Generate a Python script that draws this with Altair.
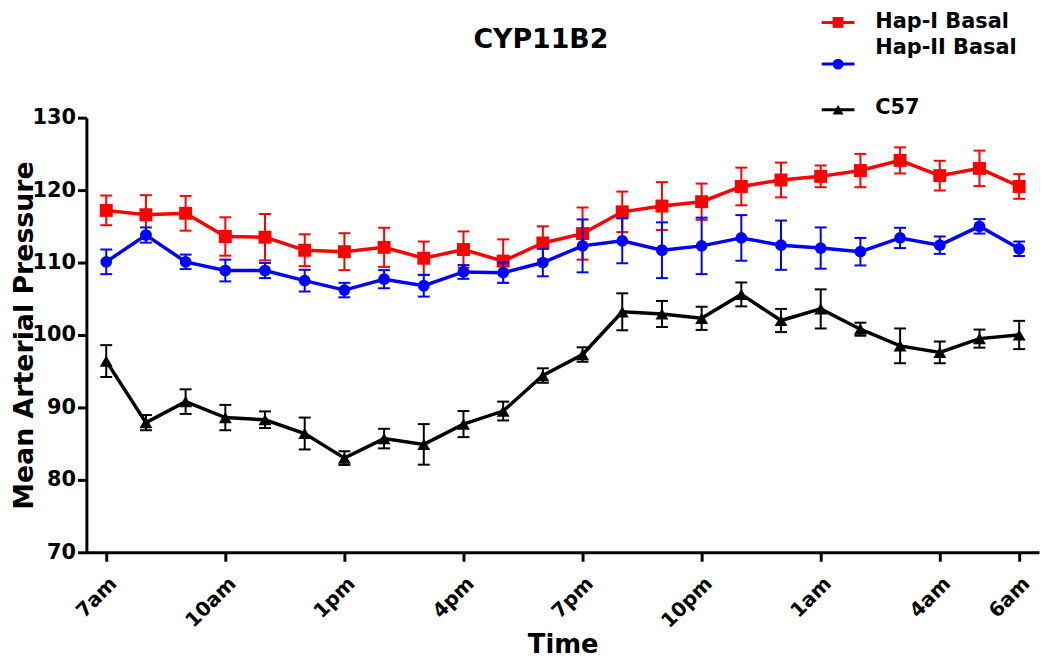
import altair as alt
import pandas as pd

chart_title = ["CYP11B2"]
times = ["7am", "8am", "9am", "10am", "11am", "12pm", "1pm", "2pm", "3pm", "4pm",
         "5pm", "6pm", "7pm", "8pm", "9pm", "10pm", "11pm", "12am", "1am", "2am",
         "3am", "4am", "5am", "6am"]
tick_labels = ["7am", "10am", "1pm", "4pm", "7pm", "10pm", "1am", "4am", "6am"]
y_ticks = [70, 80, 90, 100, 110, 120, 130]

series_names = ["Hap-I Basal", "Hap-II Basal", "C57"]
series_colors = ["#ff0000", "#0000ff", "#000000"]
series_shapes = ["square", "circle", "triangle-up"]
marker_sizes = [170, 140, 170]
legend_marker_sizes = [120, 120, 120]

hap1_mean = [117.2, 116.6, 116.8, 113.6, 113.5, 111.7, 111.5, 112.1, 110.6, 111.8,
             110.2, 112.7, 114.0, 117.0, 117.8, 118.4, 120.5, 121.4, 121.9, 122.7,
             124.1, 122.0, 123.0, 120.5]
hap1_err = [2.05, 2.7, 2.4, 2.65, 3.2, 2.2, 2.55, 2.7, 2.3, 2.5, 3.0, 2.3,
            3.6, 2.8, 3.3, 2.5, 2.6, 2.4, 1.5, 2.3, 1.8, 2.05, 2.45, 1.7]
hap2_mean = [110.1, 113.8, 110.1, 108.9, 108.9, 107.5, 106.2, 107.7, 106.8, 108.7,
             108.6, 110.0, 112.3, 113.0, 111.7, 112.3, 113.4, 112.4, 112.0, 111.5,
             113.4, 112.4, 115.0, 111.9]
hap2_err = [1.7, 1.05, 1.0, 1.5, 1.05, 1.5, 1.0, 1.25, 1.5, 0.95, 1.4, 1.9,
            3.65, 3.1, 3.85, 3.9, 3.15, 3.4, 2.85, 1.9, 1.4, 1.2, 1.0, 1.0]
c57_mean = [96.4, 87.9, 90.8, 88.6, 88.3, 86.4, 83.0, 85.7, 84.9, 87.7,
            89.5, 94.4, 97.3, 103.2, 102.9, 102.3, 105.6, 102.0, 103.6, 100.8,
            98.5, 97.6, 99.5, 100.0]
c57_err = [2.2, 1.05, 1.7, 1.75, 1.15, 2.2, 0.95, 1.35, 2.8, 1.8, 1.3, 1.0,
           1.0, 2.55, 1.8, 1.6, 1.65, 1.6, 2.7, 0.9, 2.4, 1.5, 1.25, 1.95]

rows = []
for name, means, errs in zip(series_names, [hap1_mean, hap2_mean, c57_mean],
                             [hap1_err, hap2_err, c57_err]):
    for t, m, e in zip(times, means, errs):
        rows.append({"series": name, "time": t, "mean": m,
                     "lo": round(m - e, 3), "hi": round(m + e, 3)})
df = pd.DataFrame(rows)

FONT = "DejaVu Sans"

x_axis = alt.Axis(values=tick_labels, title="Time", grid=False,
                  labelAngle=315, labelAlign="right", labelBaseline="top",
                  labelPadding=12, labelOverlap=False,
                  labelFont=FONT, labelFontSize=20, labelFontWeight="bold",
                  labelColor="black",
                  tickSize=9, tickWidth=3, tickColor="black",
                  domainWidth=3, domainColor="black",
                  titleFont=FONT, titleFontSize=26, titleFontWeight="bold",
                  titleColor="black", titleBaseline="alphabetic", titleY=101)
x_enc = alt.X("time:N", scale=alt.Scale(type="point", domain=times, padding=0.5),
              axis=x_axis)

y_axis = alt.Axis(values=y_ticks, title="Mean Arterial Pressure", grid=False,
                  labelFont=FONT, labelFontSize=21, labelFontWeight="bold",
                  labelColor="black", labelPadding=2,
                  tickSize=9, tickWidth=3, tickColor="black",
                  domainWidth=3, domainColor="black",
                  titleFont=FONT, titleFontSize=27, titleFontWeight="bold",
                  titleColor="black", titleBaseline="alphabetic", titleX=-54)
y_scale = alt.Scale(domain=[70, 130], nice=False, zero=False)

color_scale = alt.Scale(domain=series_names, range=series_colors)
color_enc = alt.Color("series:N", scale=color_scale, legend=None)

base = alt.Chart(df)
layers = []
for name, shape, size in zip(series_names, series_shapes, marker_sizes):
    b = base.transform_filter(alt.datum.series == name)
    rule = b.mark_rule(strokeWidth=2).encode(
        x=x_enc, y=alt.Y("lo:Q", scale=y_scale, axis=y_axis), y2="hi:Q",
        color=color_enc)
    cap_lo = b.mark_tick(size=12, thickness=2, opacity=1).encode(
        x=x_enc, y=alt.Y("lo:Q", scale=y_scale, axis=y_axis), color=color_enc)
    cap_hi = b.mark_tick(size=12, thickness=2, opacity=1).encode(
        x=x_enc, y=alt.Y("hi:Q", scale=y_scale, axis=y_axis), color=color_enc)
    line = b.mark_line(strokeWidth=3.5).encode(
        x=x_enc, y=alt.Y("mean:Q", scale=y_scale, axis=y_axis), color=color_enc)
    pts = b.mark_point(shape=shape, filled=True, size=size, opacity=1).encode(
        x=x_enc, y=alt.Y("mean:Q", scale=y_scale, axis=y_axis), color=color_enc)
    layers += [rule, cap_lo, cap_hi, line, pts]

# manual legend (pixel placement, relative to the plot's top-left corner)
legend_symbol_y = [-96, -54, -8]
legend_label_y = [-96, -70, -10]
for name, shape, lsize, sy, ty in zip(series_names, series_shapes, legend_marker_sizes,
                                      legend_symbol_y, legend_label_y):
    ld = alt.Chart(pd.DataFrame({"series": [name]}))
    layers.append(ld.mark_rule(strokeWidth=3).encode(
        x=alt.value(741), x2=alt.value(774), y=alt.value(sy), color=color_enc))
    layers.append(ld.mark_point(shape=shape, filled=True, size=lsize, opacity=1).encode(
        x=alt.value(757.5), y=alt.value(sy), color=color_enc))
    layers.append(ld.mark_text(align="left", baseline="middle", font=FONT, fontSize=21,
                               fontWeight="bold", color="black").encode(
        x=alt.value(795), y=alt.value(ty), text="series:N"))

# chart title as a text mark
title_layer = alt.Chart(pd.DataFrame({"title": chart_title})).mark_text(
    align="center", baseline="alphabetic", font=FONT, fontSize=27,
    fontWeight="bold", color="black").encode(
    x=alt.value(458), y=alt.value(-70), text="title:N")
layers.append(title_layer)

chart = alt.layer(*layers).properties(
    width=960, height=438,
    padding={"left": 79, "top": 108, "right": 3, "bottom": 105},
    autosize=alt.AutoSizeParams(type="none"),
).configure_view(stroke=None)

chart.save("out.html", embed_options={"renderer": "svg", "actions": False})
